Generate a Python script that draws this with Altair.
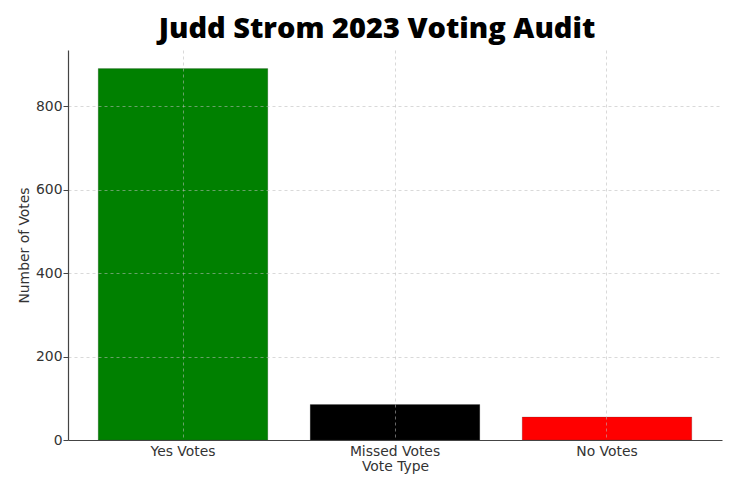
import altair as alt
import pandas as pd

categories = ["Yes Votes", "Missed Votes", "No Votes"]
votes = [890, 85, 55]
colors = ["#008000", "#000000", "#ff0000"]
y_ticks = [0, 200, 400, 600, 800]

df = pd.DataFrame({"Vote Type": categories, "Number of Votes": votes})

bars = alt.Chart(df).mark_bar(stroke="#333333", strokeWidth=0.5, strokeOpacity=0.4).encode(
    x=alt.X(
        "Vote Type:N",
        sort=categories,
        scale=alt.Scale(paddingInner=0.2, paddingOuter=0.1425),
        axis=alt.Axis(
            title="Vote Type", labelAngle=0, labelPadding=4, titlePadding=2,
            grid=True, zindex=1, ticks=False,
        ),
    ),
    y=alt.Y(
        "Number of Votes:Q",
        scale=alt.Scale(domain=[0, 934.5], nice=False, zero=True),
        axis=alt.Axis(
            title="Number of Votes", values=y_ticks, grid=True, zindex=1,
            tickSize=5, tickColor="#444444", labelPadding=1, titlePadding=4,
        ),
    ),
    color=alt.Color("Vote Type:N", scale=alt.Scale(domain=categories, range=colors), legend=None),
)

chart = bars.properties(
    width=654,
    height=390,
    title=alt.Title("Judd Strom 2023 Voting Audit", fontSize=29, font="Open Sans", fontWeight=800,
                    color="#000000", offset=6, anchor="middle", dx=-18),
    autosize=alt.AutoSizeParams(type="none"),
    padding={"left": 60, "top": 42, "right": 6, "bottom": 40},
).configure_view(
    stroke=None
).configure_axis(
    labelFont="DejaVu Sans", titleFont="DejaVu Sans", labelFontSize=13.9, titleFontSize=13.9,
    labelColor="#333333", titleColor="#333333", titleFontWeight="normal",
    domainColor="#444444", domainWidth=1.2,
    gridColor="#bbbbbb", gridDash=[3, 3], gridOpacity=0.7, gridWidth=0.8,
)

chart.save("out.html", embed_options={"renderer": "svg", "actions": False})
